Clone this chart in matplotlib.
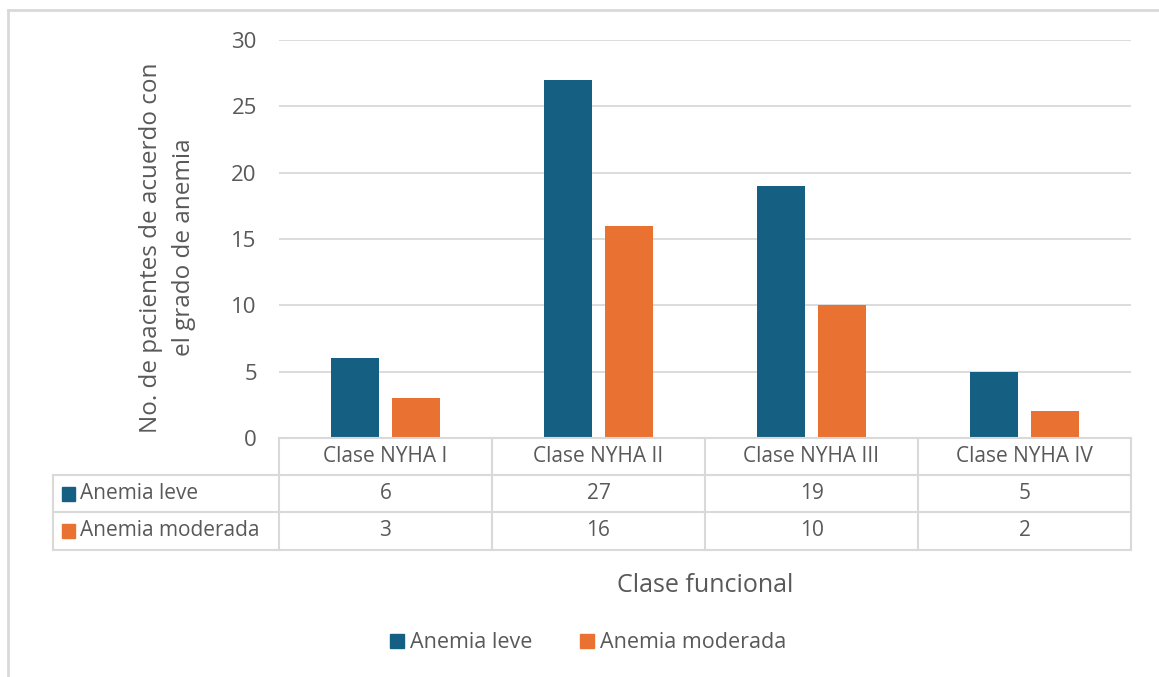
import matplotlib
matplotlib.use("Agg")
import matplotlib.pyplot as plt
from matplotlib.lines import Line2D
from matplotlib.patches import Rectangle
import numpy as np

# ==========================
# DATA
# ==========================
categories = ["Clase NYHA I", "Clase NYHA II", "Clase NYHA III", "Clase NYHA IV"]
series_names = ["Anemia leve", "Anemia moderada"]
anemia_leve = [6, 27, 19, 5]
anemia_moderada = [3, 16, 10, 2]
y_ticks = [0, 5, 10, 15, 20, 25, 30]

# ==========================
# STYLE
# ==========================
BLUE = "#156082"
ORANGE = "#E97132"
TEXT = "#595959"
GRID = "#D9D9D9"
FONT = "Open Sans"
TBL_FS = 15

W, H = 1159, 677
plt.rcParams["font.family"] = [FONT, "DejaVu Sans"]

fig = plt.figure(figsize=(W / 100, H / 100), dpi=100)


def fx(px):
    return px / W


def fy(py):
    return 1 - py / H


# plot area in pixel terms
X0, X1 = 279, 1131
Y_TOP, Y_BASE = 40, 438
ax = fig.add_axes([fx(X0), fy(Y_BASE), fx(X1 - X0), fy(Y_TOP) - fy(Y_BASE)])

x = np.arange(len(categories))
bw = 0.225
off = 0.143
ax.bar(x - off, anemia_leve, bw, color=BLUE, zorder=3)
ax.bar(x + off, anemia_moderada, bw, color=ORANGE, zorder=3)

ax.set_xlim(-0.5, len(categories) - 0.5)
ax.set_ylim(0, 30)
ax.set_yticks(y_ticks)
ax.set_xticks([])
ax.yaxis.grid(True, color=GRID, linewidth=1.3, zorder=0)
ax.tick_params(axis="y", length=0, pad=16, labelsize=16, labelcolor=TEXT)
for s in ax.spines.values():
    s.set_visible(False)

ax.set_ylabel("No. de pacientes de acuerdo con\nel grado de anemia",
              fontsize=17.5, color=TEXT, linespacing=1.5)
ax.yaxis.set_label_coords(-0.097, 0.479)

# ==========================
# DATA TABLE UNDER THE AXIS
# ==========================
row_y = [438, 475, 512, 550]
col_x = [X0 + i * (X1 - X0) / len(categories) for i in range(len(categories) + 1)]
LEFT = 53


def hline(py, xa, xb):
    fig.add_artist(Line2D([fx(xa), fx(xb)], [fy(py), fy(py)], color=GRID, lw=1.5))


def vline(px, ya, yb):
    fig.add_artist(Line2D([fx(px), fx(px)], [fy(ya), fy(yb)], color=GRID, lw=1.5))


hline(row_y[0], X0, X1)
for py in row_y[1:]:
    hline(py, LEFT, X1)
for px in col_x:
    vline(px, row_y[0], row_y[3])
vline(LEFT, row_y[1], row_y[3])

for i, cat in enumerate(categories):
    cx = (col_x[i] + col_x[i + 1]) / 2
    fig.text(fx(cx), fy((row_y[0] + row_y[1]) / 2), cat, ha="center", va="center",
             fontsize=TBL_FS, color=TEXT)
    fig.text(fx(cx), fy((row_y[1] + row_y[2]) / 2), str(anemia_leve[i]), ha="center",
             va="center", fontsize=TBL_FS, color=TEXT)
    fig.text(fx(cx), fy((row_y[2] + row_y[3]) / 2), str(anemia_moderada[i]), ha="center",
             va="center", fontsize=TBL_FS, color=TEXT)

for r, (name, col) in enumerate(zip(series_names, [BLUE, ORANGE])):
    cy = (row_y[r + 1] + row_y[r + 2]) / 2
    fig.add_artist(Rectangle((fx(62), fy(cy + 7)), fx(13), fy(cy - 7) - fy(cy + 7),
                             color=col))
    fig.text(fx(80), fy(cy), name, ha="left", va="center", fontsize=TBL_FS, color=TEXT)

# axis title
fig.text(fx(705), fy(586), "Clase funcional", ha="center", va="center",
         fontsize=18, color=TEXT)

# ==========================
# LEGEND
# ==========================
handles = [Rectangle((0, 0), 1, 1, color=BLUE), Rectangle((0, 0), 1, 1, color=ORANGE)]
fig.legend(handles, series_names, loc="center", bbox_to_anchor=(fx(588), fy(643)),
           ncol=2, frameon=False, fontsize=15.5, labelcolor=TEXT,
           handlelength=0.65, handleheight=0.65, handletextpad=0.3, columnspacing=2.2)

# chart frame
fig.add_artist(Line2D([fx(8), fx(8)], [fy(10), 0], color=GRID, lw=2))
fig.add_artist(Line2D([fx(8), 1], [fy(10), fy(10)], color=GRID, lw=2))

fig.savefig("out.png", dpi=100)
